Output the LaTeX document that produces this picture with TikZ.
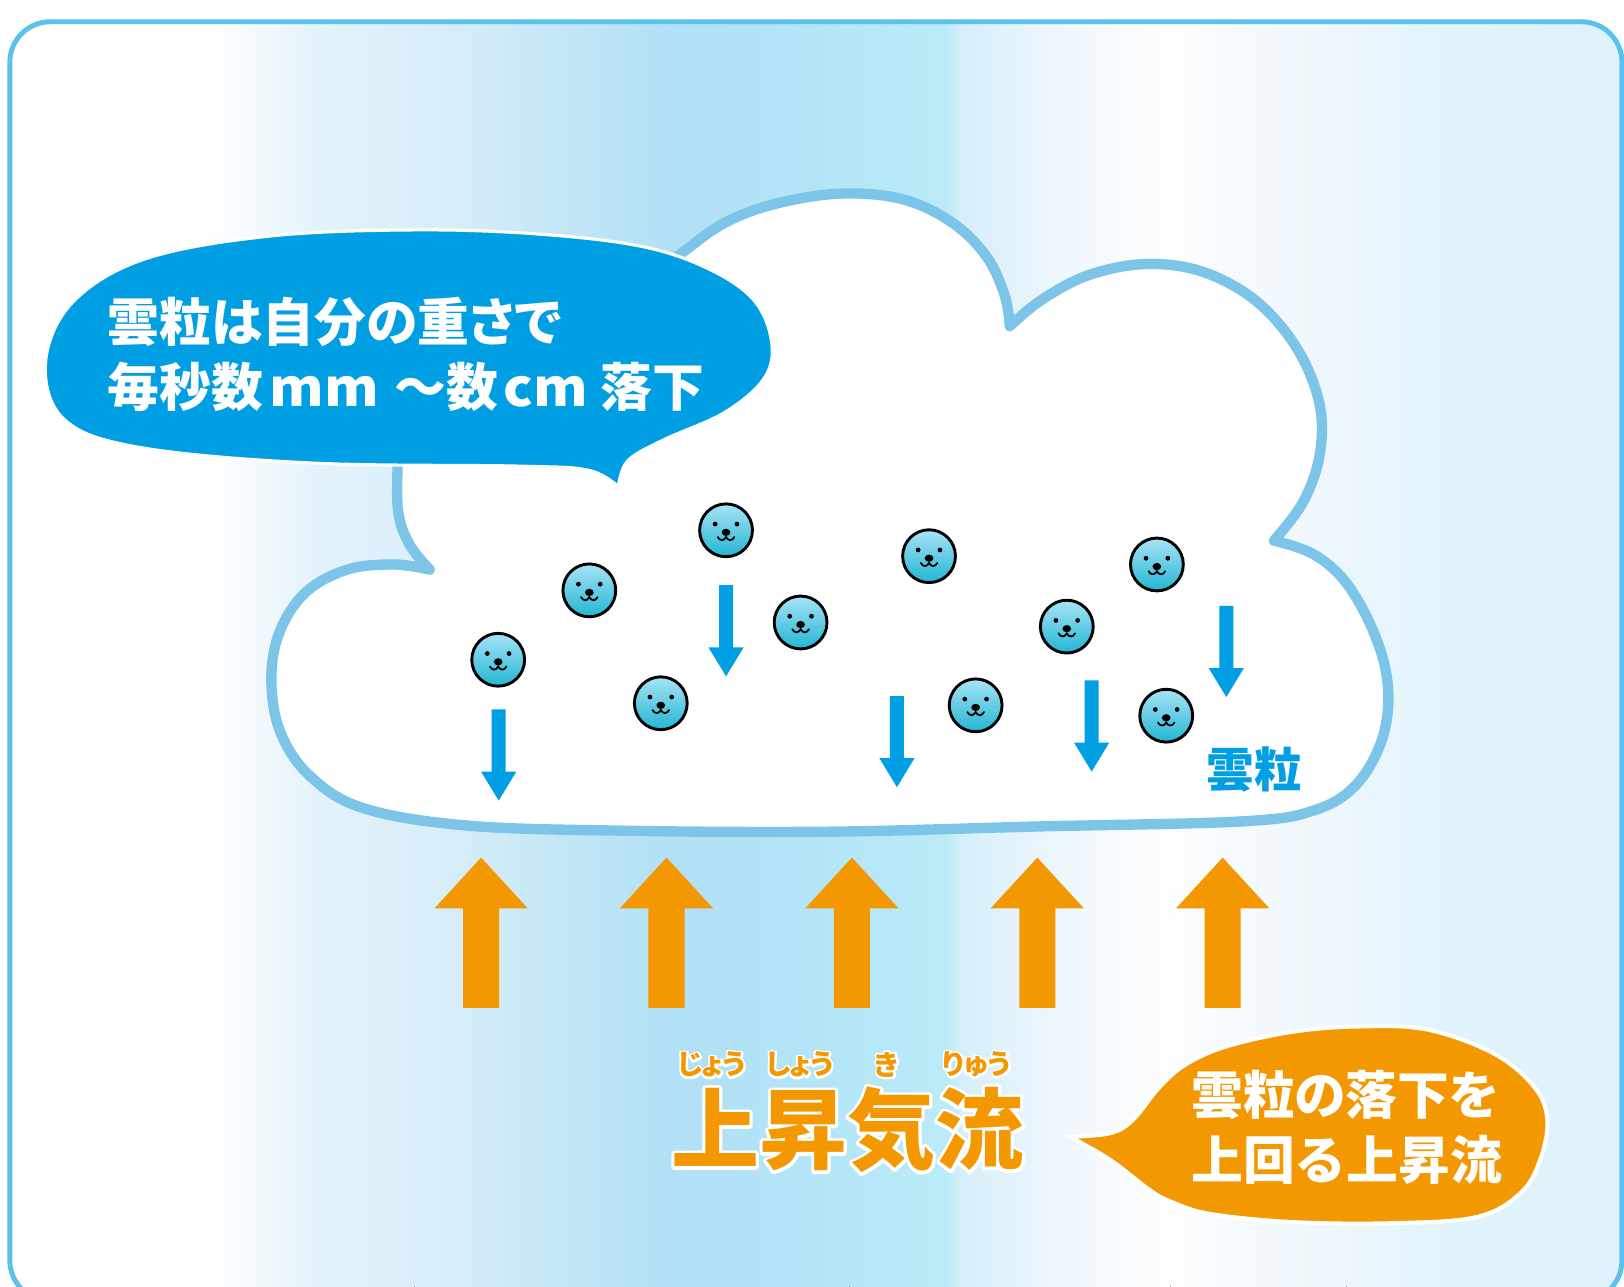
\documentclass[tikz,border=0pt]{standalone}
\usepackage{fontspec}
\newfontfamily\jp{Noto Sans CJK JP}
\newfontfamily\jpprop{Noto Sans CJK JP}[RawFeature=+palt]
\begin{document}
% colours
\definecolor{frameblue}{HTML}{5BC2EE}
\definecolor{cloudline}{HTML}{7DC5E8}
\definecolor{dropblue}{HTML}{009FE3}
\definecolor{upflow}{HTML}{F39800}
\definecolor{droptop}{HTML}{A8E3F6}
\definecolor{dropbot}{HTML}{22B6D4}
\definecolor{bgA}{HTML}{FFFFFF}
\definecolor{bgB}{HTML}{E4F3FB}
\definecolor{bgC}{HTML}{DBEFFA}
\definecolor{bgD}{HTML}{CFEBF8}
\definecolor{bgE}{HTML}{C0E5F7}
\definecolor{bgF}{HTML}{B2E0F6}
\definecolor{bgG}{HTML}{B2E2F6}
\definecolor{bgH}{HTML}{B5E7F8}
\definecolor{bgI}{HTML}{BCEBF8}
\definecolor{bgJ}{HTML}{D6EFFA}
\definecolor{bgK}{HTML}{E9F5FC}
\definecolor{bgL}{HTML}{F7FAFD}
\definecolor{bgM}{HTML}{FDFDFE}
\definecolor{bgN}{HTML}{F5FAFD}
\definecolor{bgO}{HTML}{ECF6FC}
\definecolor{bgP}{HTML}{E1F3FB}
\definecolor{bgQ}{HTML}{DFF2FB}
\newcommand\band[4]{\fill[left color=#3, right color=#4] (#1,0) rectangle (#2+0.6,1250);}
% text with a white rim: a stroked white copy under the coloured text
\newcommand\rimmed[3]{% rim width, colour, text
  \rlap{\color{white}\special{pdf:literal direct 1 j #1 w 2 Tr}#3\special{pdf:literal direct 0 Tr}}{\color{#2}#3}}
\begin{tikzpicture}[x=1pt, y=-1pt,
  bodytext/.style={font=\jp\bfseries\fontsize{50}{60}\selectfont, text=white, anchor=west, inner sep=0pt},
  bodyprop/.style={bodytext, font=\jpprop\bfseries\fontsize{50}{60}\selectfont},
  bodypiece/.style={bodytext, anchor=base west},
  rubytext/.style={font=\jpprop\bfseries\fontsize{27}{30}\selectfont, inner sep=0pt},
  fallarrow/.pic={\fill[dropblue] (-6.8,0) -- (6.8,0) -- (6.8,60) -- (17,60) -- (0,88) -- (-17,60) -- (-6.8,60) -- cycle;},
  risearrow/.pic={\fill[upflow] (0,0) -- (45,49) -- (17.4,49) -- (17.4,145) -- (-17.4,145) -- (-17.4,49) -- (-45,49) -- cycle;},
  droplet/.pic={
    \shade[top color=droptop, bottom color=dropbot] (0,0) circle (25.5);
    \draw[line width=2.8] (0,0) circle (25.5);
    \fill (-10.5,-6) circle (2.3);
    \fill (10.5,-6) circle (2.3);
    \fill (0,2) ellipse (4.2 and 3.5);
    \draw[line width=1.7, line cap=round] (-8,6.5) .. controls (-6,10.5) and (-2,10.5) .. (0,6.5) .. controls (2,10.5) and (6,10.5) .. (8,6.5);}
]
\useasboundingbox (0,0) rectangle (1568,1242);

% background wash inside the rounded frame
\begin{scope}
  \clip[rounded corners=39] (9.5,21) rectangle (1566,1256);
  \band{0}{200}{bgA}{bgA}
  \band{200}{300}{bgA}{bgB}
  \band{300}{400}{bgB}{bgC}
  \band{400}{480}{bgC}{bgD}
  \band{480}{560}{bgD}{bgE}
  \band{560}{650}{bgE}{bgF}
  \band{650}{720}{bgF}{bgG}
  \band{720}{820}{bgG}{bgH}
  \band{820}{915}{bgH}{bgI}
  \band{915}{928}{bgI}{bgJ}
  \band{928}{1000}{bgJ}{bgK}
  \band{1000}{1070}{bgK}{bgL}
  \band{1070}{1130}{bgL}{bgM}
  \band{1130}{1200}{bgM}{bgN}
  \band{1200}{1300}{bgN}{bgO}
  \band{1300}{1400}{bgO}{bgP}
  \band{1400}{1570}{bgP}{bgQ}
\end{scope}
\draw[frameblue, line width=4.8, rounded corners=39] (9.5,21) rectangle (1566,1256);

% the cloud
\path[fill=white, draw=cloudline, line width=10, line join=round]
  plot[smooth, tension=0.6] coordinates {(385,425) (384,490) (395,525) (415,550)}
  -- plot[smooth, tension=0.6] coordinates {(415,550) (380,545) (335,550) (295,572) (270,610) (262,655) (270,705) (298,748) (350,780) (450,797) (600,802) (800,803) (1000,798) (1200,793) (1270,782) (1310,757) (1335,712) (1340,662) (1327,612) (1300,563) (1268,535) (1230,522)}
  -- plot[smooth, tension=0.6] coordinates {(1230,522) (1258,485) (1274,440) (1274,390) (1252,336) (1212,290) (1160,262) (1105,255) (1050,266) (1005,290) (975,315)}
  -- plot[smooth, tension=0.6] coordinates {(975,315) (970,285) (952,247) (918,214) (870,192) (810,187) (748,197) (700,215) (660,243) (600,290)}
  -- (480,360) -- cycle;

% cloud droplets
\foreach \n/\x/\y in {d1/481/637, d2/569/570, d3/701/512, d4/638/679, d5/773/601, d6/897/537, d7/942/681, d8/1030/605, d9/1117/545, d10/1126/691}
  \pic (\n) at (\x,\y) {droplet};

% falling speed of the droplets
\foreach \n/\x/\y in {f1/481.5/685, f2/701/565, f3/866/672, f4/1054/657, f5/1184/585}
  \pic (\n) at (\x,\y) {fallarrow};

\node[font=\jp\bfseries\fontsize{46}{50}\selectfont, inner sep=0pt] (droplabel) at (1211,743) {\rimmed{5}{dropblue}{雲粒}};

% speech bubble: falling speed
\path[fill=dropblue, draw=white, line width=3]
  plot[smooth, tension=0.6] coordinates {(597,470) (606,445) (640,425) (700,398) (738,365) (745,330) (728,290) (685,260) (620,238) (520,226) (400,222) (260,228) (140,250) (70,292) (44,350) (62,405) (135,432) (300,447) (500,450) (568,454) (597,470)} -- cycle;
\node[bodyprop] (fallA) at (104,311) {雲粒は自分の重さで};
\node[bodypiece] (fallB1) at (104,392) {毎秒数};
\node[bodypiece] (fallB2) at (260,392) {\scalebox{1.07}[1]{mm}};
\node[bodypiece] (fallB3) at (381,392) {～数};
\node[bodypiece] (fallB4) at (486,392) {\scalebox{1.07}[1]{cm}};
\node[bodypiece] (fallB5) at (580,392) {落下};

% updraft arrows
\foreach \n/\x in {u1/464.5, u2/643.5, u3/822.5, u4/1001.5, u5/1180.5}
  \pic (\n) at (\x,828) {risearrow};

% updraft title with readings
\node[font=\jp\bfseries\fontsize{85}{92}\selectfont, inner sep=0pt] (title) at (818,1091) {\rimmed{6}{upflow}{上昇気流}};
\node[rubytext] (rubyA) at (687,1028) {\rimmed{4}{upflow}{じょう}};
\node[rubytext] (rubyB) at (772,1028) {\rimmed{4}{upflow}{しょう}};
\node[rubytext] (rubyC) at (856,1028) {\rimmed{4}{upflow}{き}};
\node[rubytext] (rubyD) at (943,1028) {\rimmed{4}{upflow}{りゅう}};

% speech bubble: updraft beats the fall
\path[fill=upflow, draw=white, line width=4]
  plot[smooth, tension=0.6] coordinates {(1033,1097.5) (1072,1094) (1094,1081) (1120,1049) (1146,1027) (1185,1010) (1249,996) (1313,991) (1378,994) (1442,1017) (1481,1049) (1494,1081) (1487,1120) (1468,1152) (1426,1175) (1345,1181) (1249,1180) (1168,1172) (1130,1160) (1110,1149) (1072,1120) (1033,1097.5)} -- cycle;
\node[bodyprop] (riseA) at (1150,1057) {雲粒の落下を};
\node[bodytext] (riseB) at (1150,1120) {上回る上昇流};
\end{tikzpicture}
\end{document}
